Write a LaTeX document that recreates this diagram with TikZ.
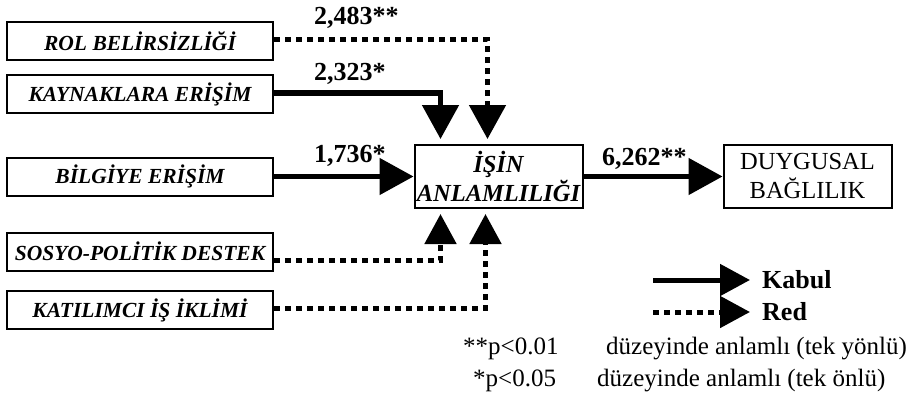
\documentclass[tikz,border=0pt]{standalone}
\usepackage{fontspec}
\setmainfont{Liberation Serif}
\usetikzlibrary{arrows.meta,calc}
\begin{document}
\begin{tikzpicture}[x=1pt,y=-1pt,
  lbox/.style={draw,line width=2pt,minimum width=266pt,minimum height=38pt,inner sep=0pt,font=\fontsize{21.5}{24}\selectfont\bfseries\itshape},
  cbox/.style={draw,line width=2pt,minimum width=168pt,minimum height=63pt,inner sep=0pt,align=center,font=\fontsize{24.5}{29}\selectfont},
  bigtip/.style={-{Triangle[length=34pt,width=36pt]}},
  smalltip/.style={-{Triangle[length=30pt,width=31pt]}},
  solidline/.style={line width=5pt},
  dotline/.style={line width=5pt,dash pattern=on 6pt off 5pt},
  coef/.style={font=\fontsize{26}{30}\selectfont\bfseries,anchor=base west,inner sep=0pt},
  note/.style={font=\fontsize{25}{30}\selectfont,anchor=base west,inner sep=0pt}
]
\useasboundingbox (0,0) rectangle (916,396);

\node[lbox] (rol) at (140,41) {ROL BELİRSİZLİĞİ};
\node[lbox] (kay) at (140,94) {KAYNAKLARA ERİŞİM};
\node[lbox] (bil) at (140,176.5) {BİLGİYE ERİŞİM};
\node[lbox] (sos) at (140,251.5) {SOSYO-POLİTİK DESTEK};
\node[lbox] (kat) at (140,310) {KATILIMCI İŞ İKLİMİ};

\node[cbox] (isin) at (498.5,176.5) {\bfseries\itshape İŞİN\\\bfseries\itshape ANLAMLILIĞI};
\node[cbox] (duy) at (807.5,176.5) {DUYGUSAL\\BAĞLILIK};

\draw[dotline,bigtip,shorten >=5pt] ([yshift=1pt]rol.east) -| ([xshift=74pt]isin.north west);
\draw[solidline,bigtip,shorten >=5pt] ([yshift=1pt]kay.east) -| ([xshift=27pt]isin.north west);
\draw[solidline,bigtip] (bil.east) -- (isin.west);
\draw[dotline,smalltip,shorten >=5pt] ([yshift=-8.5pt]sos.east) -| ([xshift=27pt]isin.south west);
\draw[dotline,smalltip,shorten >=5pt] ([yshift=2pt]kat.east) -| ([xshift=72pt]isin.south west);
\draw[solidline,bigtip] (isin.east) -- (duy.west);

\node[coef] (c1) at (314,25) {2,483**};
\node[coef] (c2) at (314,81) {2,323*};
\node[coef] (c3) at (314,162) {1,736*};
\node[coef] (c4) at (602,165) {6,262**};

\coordinate (ka) at (653,280);
\coordinate (kb) at (750,280);
\coordinate (ra) at (653,312);
\coordinate (rb) at (750,312);
\draw[solidline,smalltip] (ka) -- (kb);
\draw[dotline,smalltip] (ra) -- (rb);
\node[coef,anchor=west] (kabul) at (762,280) {Kabul};
\node[coef,anchor=west] (red) at (762,312) {Red};

\node[note] (n1a) at (463,354) {**p<0.01};
\node[note] (n1b) at (606,354) {düzeyinde anlamlı (tek yönlü)};
\node[note] (n2a) at (473,386) {*p<0.05};
\node[note] (n2b) at (597,386) {düzeyinde anlamlı (tek önlü)};
\end{tikzpicture}
\end{document}
